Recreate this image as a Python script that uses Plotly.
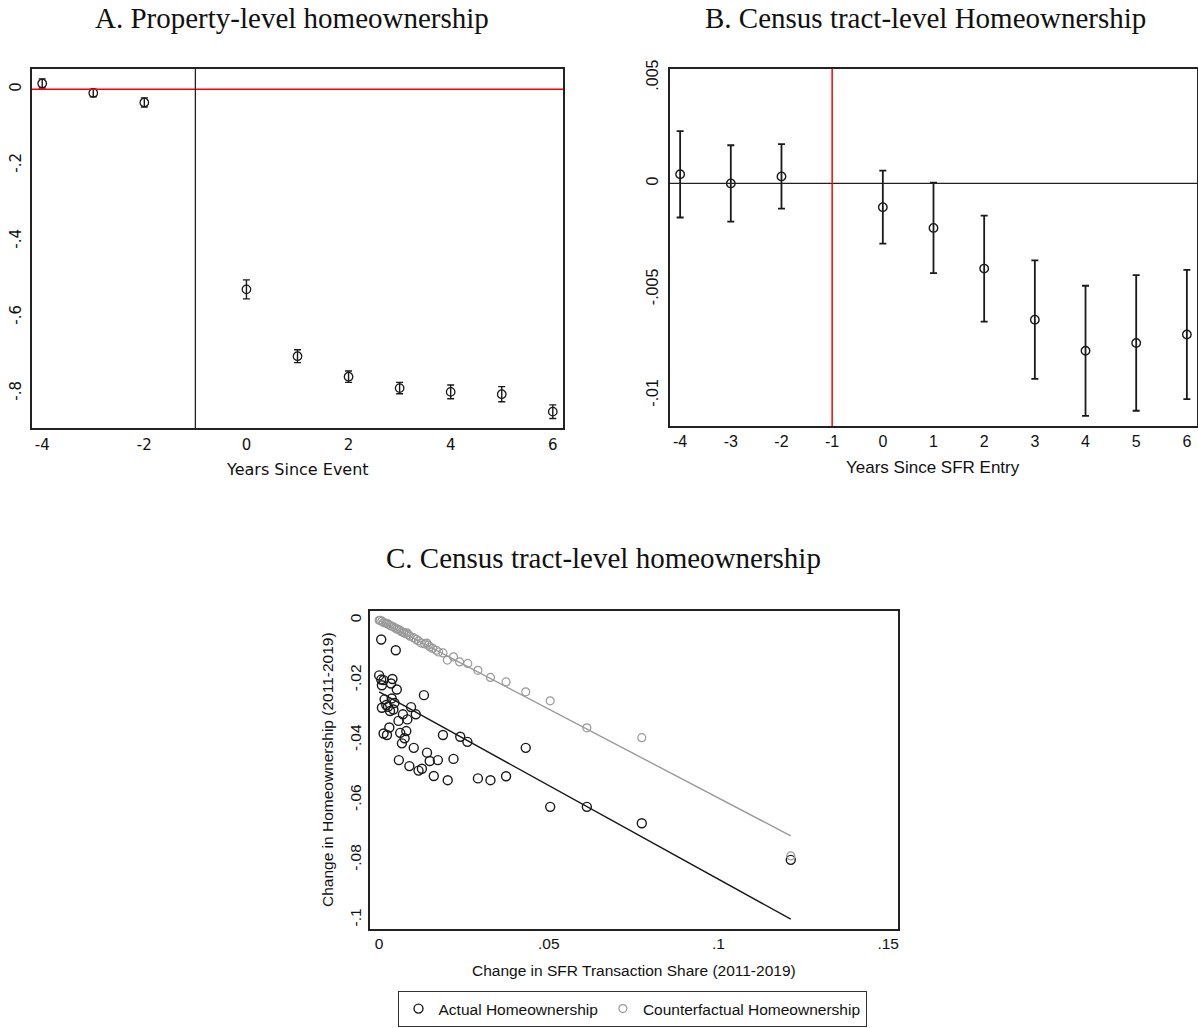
import plotly.graph_objects as go

W, H = 1198, 1028

# ---------------- Panel A data ----------------
a_years = [-4, -3, -2, 0, 1, 2, 3, 4, 5, 6]
a_coef = [0.015, -0.010, -0.035, -0.527, -0.703, -0.757, -0.787, -0.797, -0.803, -0.849]
a_err = [0.012, 0.010, 0.012, 0.025, 0.017, 0.015, 0.015, 0.018, 0.020, 0.018]
a_xticks = [-4, -2, 0, 2, 4, 6]
a_xlabels = ["-4", "-2", "0", "2", "4", "6"]
a_yticks = [0, -0.2, -0.4, -0.6, -0.8]
a_ylabels = ["0", "-.2", "-.4", "-.6", "-.8"]
a_event_x = -1
a_ref_y = 0

# ---------------- Panel B data ----------------
b_years = [-4, -3, -2, 0, 1, 2, 3, 4, 5, 6]
b_coef = [0.00043, 0.0, 0.00033, -0.00112, -0.0021, -0.00402, -0.00643, -0.0079, -0.00753, -0.00713]
b_err = [0.00204, 0.0018, 0.00152, 0.00172, 0.00213, 0.0025, 0.0028, 0.00307, 0.0032, 0.00305]
b_xticks = [-4, -3, -2, -1, 0, 1, 2, 3, 4, 5, 6]
b_xlabels = ["-4", "-3", "-2", "-1", "0", "1", "2", "3", "4", "5", "6"]
b_yticks = [0.005, 0, -0.005, -0.01]
b_ylabels = [".005", "0", "-.005", "-.01"]
b_event_x = -1
b_ref_y = 0

# ---------------- Panel C data ----------------
c_actual_x = [0.0006, 0.0049, 0.0000, 0.0006, 0.0013, 0.0039, 0.0008, 0.0035, 0.0052, 0.0132,
              0.0037, 0.0016, 0.0008, 0.0021, 0.0026, 0.0042, 0.0032, 0.0045, 0.0094, 0.0108,
              0.0070, 0.0057, 0.0083, 0.0030, 0.0013, 0.0023, 0.0062, 0.0080, 0.0067, 0.0075,
              0.0188, 0.0239, 0.0260, 0.0102, 0.0432, 0.0141, 0.0058, 0.0149, 0.0173, 0.0219,
              0.0089, 0.0126, 0.0116, 0.0161, 0.0202, 0.0291, 0.0328, 0.0374, 0.0504, 0.0612,
              0.0774, 0.1213]
c_actual_y = [-0.0064, -0.0100, -0.0184, -0.0198, -0.0200, -0.0196, -0.0217, -0.0211, -0.0231, -0.0250,
              -0.0261, -0.0264, -0.0292, -0.0283, -0.0289, -0.0298, -0.0303, -0.0276, -0.0290, -0.0314,
              -0.0314, -0.0336, -0.0331, -0.0358, -0.0378, -0.0383, -0.0376, -0.0370, -0.0411, -0.0394,
              -0.0383, -0.0389, -0.0406, -0.0426, -0.0426, -0.0442, -0.0467, -0.0470, -0.0467, -0.0463,
              -0.0487, -0.0496, -0.0502, -0.0520, -0.0534, -0.0528, -0.0534, -0.0521, -0.0623, -0.0623,
              -0.0678, -0.0800]
c_cf_x = [0.0000, 0.0003, 0.0008, 0.0013, 0.0018, 0.0023, 0.0027, 0.0032, 0.0037, 0.0042,
          0.0047, 0.0052, 0.0057, 0.0062, 0.0067, 0.0072, 0.0077, 0.0082, 0.0086, 0.0091,
          0.0101, 0.0109, 0.0116, 0.0124, 0.0134, 0.0140, 0.0145, 0.0150, 0.0158, 0.0168,
          0.0175, 0.0188, 0.0201, 0.0219, 0.0237, 0.0261, 0.0291, 0.0328, 0.0374, 0.0432,
          0.0504, 0.0612, 0.0774, 0.1213]
c_cf_y = [0.0000, 0.0000, -0.0003, -0.0007, -0.0009, -0.0011, -0.0013, -0.0017, -0.0020, -0.0022,
          -0.0026, -0.0029, -0.0031, -0.0034, -0.0039, -0.0041, -0.0044, -0.0042, -0.0048, -0.0053,
          -0.0058, -0.0064, -0.0069, -0.0076, -0.0079, -0.0076, -0.0083, -0.0089, -0.0094, -0.0100,
          -0.0106, -0.0109, -0.0133, -0.0122, -0.0139, -0.0144, -0.0167, -0.0191, -0.0206, -0.0239,
          -0.0269, -0.0359, -0.0392, -0.0787]
c_fit_x = [0.0, 0.1213]
c_actual_fit_y = [-0.0239, -0.0998]
c_cf_fit_y = [0.0, -0.0720]
c_xticks = [0, 0.05, 0.1, 0.15]
c_xlabels = ["0", ".05", ".1", ".15"]
c_yticks = [0, -0.02, -0.04, -0.06, -0.08, -0.1]
c_ylabels = ["0", "-.02", "-.04", "-.06", "-.08", "-.1"]

INK = "#1a1a1a"
GREY = "#9a9a9a"
SERIF = "Liberation Serif, Times New Roman, serif"
SANS = "Liberation Sans, Arial, sans-serif"
DEJAVU = "DejaVu Sans, sans-serif"


def px_x(p):
    return p / W


def px_y(p):
    return 1 - p / H


fig = go.Figure()

# Panel A
fig.add_trace(go.Scatter(
    x=a_years, y=a_coef, mode="markers", xaxis="x", yaxis="y", showlegend=False,
    marker=dict(symbol="circle-open", size=8.5, color=INK, line=dict(width=1.3, color=INK)),
    error_y=dict(type="data", array=a_err, color=INK, thickness=1.4, width=3.5),
))

# Panel B
fig.add_trace(go.Scatter(
    x=b_years, y=b_coef, mode="markers", xaxis="x2", yaxis="y2", showlegend=False,
    marker=dict(symbol="circle-open", size=8.5, color=INK, line=dict(width=1.4, color=INK)),
    error_y=dict(type="data", array=b_err, color=INK, thickness=1.8, width=3.5),
))

# Panel C
fig.add_trace(go.Scatter(
    x=c_fit_x, y=c_cf_fit_y, mode="lines", xaxis="x3", yaxis="y3", showlegend=False,
    line=dict(color=GREY, width=1.4), hoverinfo="skip",
))
fig.add_trace(go.Scatter(
    x=c_fit_x, y=c_actual_fit_y, mode="lines", xaxis="x3", yaxis="y3", showlegend=False,
    line=dict(color=INK, width=1.5), hoverinfo="skip",
))
fig.add_trace(go.Scatter(
    x=c_actual_x, y=c_actual_y, mode="markers", xaxis="x3", yaxis="y3",
    name="Actual Homeownership",
    marker=dict(symbol="circle-open", size=9, color=INK, line=dict(width=1.4, color=INK)),
))
fig.add_trace(go.Scatter(
    x=c_cf_x, y=c_cf_y, mode="markers", xaxis="x3", yaxis="y3",
    name="Counterfactual Homeownership",
    marker=dict(symbol="circle-open", size=8, color=GREY, line=dict(width=1.2, color=GREY)),
))

frame = dict(showline=True, mirror=True, linecolor="#222", linewidth=1.5,
             showgrid=False, zeroline=False, ticks="", automargin=False)

fig.update_layout(
    template="none",
    width=W, height=H,
    margin=dict(l=0, r=0, t=0, b=0, pad=0, autoexpand=False),
    paper_bgcolor="white", plot_bgcolor="white",
    xaxis=dict(domain=[px_x(32), px_x(563)], range=[-4.2, 6.2], anchor="y",
               tickvals=a_xticks, ticktext=a_xlabels, ticklabelstandoff=2,
               tickfont=dict(family=DEJAVU, size=15, color="#111"), **frame),
    yaxis=dict(domain=[px_y(428), px_y(69)], range=[-0.892, 0.053], anchor="x",
               tickvals=a_yticks, ticktext=a_ylabels, tickangle=-90, ticklabelstandoff=3,
               tickfont=dict(family=DEJAVU, size=15, color="#111"), **frame),
    xaxis2=dict(domain=[px_x(670), px_x(1197)], range=[-4.2, 6.2], anchor="y2",
                tickvals=b_xticks, ticktext=b_xlabels,
                tickfont=dict(family=SANS, size=16, color="#111"), **frame),
    yaxis2=dict(domain=[px_y(426), px_y(69)], range=[-0.01145, 0.0054], anchor="x2",
                tickvals=b_yticks, ticktext=b_ylabels, tickangle=-90, ticklabelstandoff=4,
                tickfont=dict(family=SANS, size=16, color="#111"), **frame),
    xaxis3=dict(domain=[px_x(370), px_x(898)], range=[-0.0027, 0.1529], anchor="y3",
                tickvals=c_xticks, ticktext=c_xlabels,
                tickfont=dict(family=SANS, size=15.5, color="#111"), **frame),
    yaxis3=dict(domain=[px_y(929), px_y(611)], range=[-0.1031, 0.0031], anchor="x3",
                tickvals=c_yticks, ticktext=c_ylabels, tickangle=-90, ticklabelstandoff=1,
                tickfont=dict(family=SANS, size=15.5, color="#111"), **frame),
    shapes=[
        dict(type="line", xref="x domain", yref="y", x0=0, x1=1, y0=a_ref_y, y1=a_ref_y,
             line=dict(color="#ff0000", width=1.5)),
        dict(type="line", xref="x", yref="y domain", x0=a_event_x, x1=a_event_x, y0=0, y1=1,
             line=dict(color="#222", width=1.3)),
        dict(type="line", xref="x2 domain", yref="y2", x0=0, x1=1, y0=b_ref_y, y1=b_ref_y,
             line=dict(color="#222", width=1.3)),
        dict(type="line", xref="x2", yref="y2 domain", x0=b_event_x, x1=b_event_x, y0=0, y1=1,
             line=dict(color="#ff0000", width=1.5)),
    ],
    legend=dict(orientation="h", x=px_x(632), xanchor="center", y=px_y(1027), yanchor="bottom",
                bordercolor="#333", borderwidth=1, bgcolor="white",
                font=dict(family=SANS, size=15.5, color="#111"), itemwidth=30,
                tracegroupgap=0),
    annotations=[
        dict(text="A. Property-level homeownership", x=px_x(292), y=px_y(18), xref="paper", yref="paper",
             showarrow=False, font=dict(family=SERIF, size=29, color="#111"), xanchor="center", yanchor="middle"),
        dict(text="B. Census tract-level Homeownership", x=px_x(925), y=px_y(18), xref="paper", yref="paper",
             showarrow=False, font=dict(family=SERIF, size=29, color="#111"), xanchor="center", yanchor="middle"),
        dict(text="C. Census tract-level homeownership", x=px_x(603), y=px_y(558), xref="paper", yref="paper",
             showarrow=False, font=dict(family=SERIF, size=29, color="#111"), xanchor="center", yanchor="middle"),
        dict(text="Years Since Event", x=px_x(297), y=px_y(470), xref="paper", yref="paper",
             showarrow=False, font=dict(family=DEJAVU, size=16, color="#111"), xanchor="center", yanchor="middle"),
        dict(text="Years Since SFR Entry", x=px_x(933), y=px_y(468), xref="paper", yref="paper",
             showarrow=False, font=dict(family=SANS, size=17, color="#111"), xanchor="center", yanchor="middle"),
        dict(text="Change in SFR Transaction Share (2011-2019)", x=px_x(634), y=px_y(970), xref="paper", yref="paper",
             showarrow=False, font=dict(family=SANS, size=15.5, color="#111"), xanchor="center", yanchor="middle"),
        dict(text="Change in Homeownership (2011-2019)", x=px_x(327), y=px_y(770), xref="paper", yref="paper",
             showarrow=False, textangle=-90, font=dict(family=SANS, size=15.5, color="#111"),
             xanchor="center", yanchor="middle"),
    ],
)

fig.write_html("out.html")
